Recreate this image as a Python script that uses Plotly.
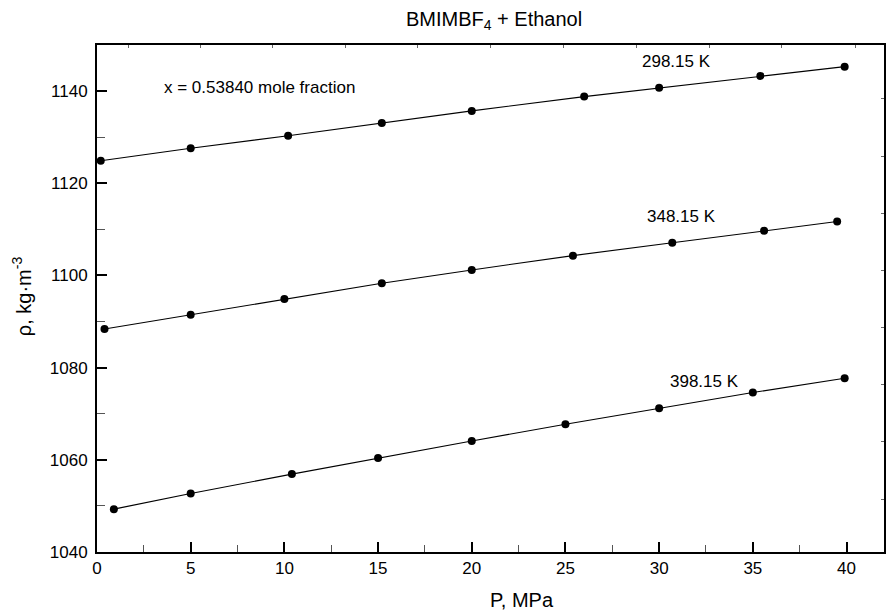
import plotly.graph_objects as go

# Data (pressure in MPa, density in kg/m^3)
p_298 = [0.2, 5.0, 10.2, 15.2, 20.0, 26.0, 30.0, 35.4, 39.9]
rho_298 = [1124.9, 1127.6, 1130.3, 1133.1, 1135.7, 1138.8, 1140.7, 1143.3, 1145.3]

p_348 = [0.4, 5.0, 10.0, 15.2, 20.0, 25.4, 30.7, 35.6, 39.5]
rho_348 = [1088.4, 1091.5, 1094.9, 1098.3, 1101.2, 1104.3, 1107.1, 1109.7, 1111.7]

p_398 = [0.9, 5.0, 10.4, 15.0, 20.0, 25.0, 30.0, 35.0, 39.9]
rho_398 = [1049.3, 1052.7, 1056.9, 1060.4, 1064.1, 1067.7, 1071.2, 1074.6, 1077.7]

series_labels = ["298.15 K", "348.15 K", "398.15 K"]
label_pos_x = [30.9, 31.2, 32.4]
label_pos_y = [1146.4, 1112.7, 1077.1]

x_range = [0, 42]
y_range = [1040, 1150]
x_ticks = [0, 5, 10, 15, 20, 25, 30, 35, 40]
y_ticks = [1040, 1060, 1080, 1100, 1120, 1140]
top_ticks = [1.68, 5.52, 9.36, 13.25, 17.09, 20.98, 24.92, 28.81, 32.7, 36.54, 40.49]
right_ticks = [1138.3, 1125.9, 1113.5, 1101.1, 1088.7, 1076.3, 1063.9, 1051.5]

FONT = "Liberation Sans, Arial, Helvetica, sans-serif"

fig = go.Figure()
for px, py in [(p_298, rho_298), (p_348, rho_348), (p_398, rho_398)]:
    fig.add_trace(go.Scatter(
        x=px, y=py, mode="lines+markers",
        line=dict(color="black", width=1.1),
        marker=dict(color="black", size=8),
        showlegend=False, cliponaxis=False,
    ))

# invisible trace for the overlay axes (top/right tick marks)
fig.add_trace(go.Scatter(x=[None], y=[None], xaxis="x2", yaxis="y2",
                         showlegend=False, hoverinfo="skip"))

for lab, lx, ly in zip(series_labels, label_pos_x, label_pos_y):
    fig.add_annotation(x=lx, y=ly, text=lab, showarrow=False,
                       font=dict(family=FONT, size=17, color="black"),
                       xanchor="center", yanchor="middle")

fig.add_annotation(x=8.66, y=1140.8, text="x = 0.53840 mole fraction", showarrow=False,
                   font=dict(family=FONT, size=17, color="black"),
                   xanchor="center", yanchor="middle")

# axis titles as annotations
fig.add_annotation(xref="paper", yref="paper", x=0.54, y=-0.095, text="P, MPa",
                   showarrow=False, font=dict(family=FONT, size=20, color="black"),
                   xanchor="center", yanchor="middle")
fig.add_annotation(xref="paper", yref="paper", x=-0.095, y=0.505,
                   text="ρ, kg·m<sup>-3</sup>", textangle=-90,
                   showarrow=False, font=dict(family=FONT, size=20, color="black"),
                   xanchor="center", yanchor="middle")

fig.update_layout(
    width=886, height=610,
    margin=dict(l=97, r=2, t=45, b=58),
    paper_bgcolor="white", plot_bgcolor="white",
    font=dict(family=FONT, size=17, color="black"),
    title=dict(text="BMIMBF<sub>4</sub> + Ethanol", x=0.5576, xanchor="center",
               y=0.969, yanchor="middle",
               font=dict(family=FONT, size=20, color="black")),
    xaxis=dict(range=x_range, tickvals=x_ticks, ticks="inside", ticklen=10,
               tickwidth=1.5, tickcolor="black", showline=True, linecolor="black",
               linewidth=2, mirror=False, showgrid=False, zeroline=False,
               minor=dict(dtick=2.5, tick0=0, ticks="inside", ticklen=7,
                          tickwidth=1, tickcolor="#555", showgrid=False),
               tickfont=dict(family=FONT, size=17, color="black")),
    yaxis=dict(range=y_range, tickvals=y_ticks, ticks="inside", ticklen=10,
               tickwidth=1.5, tickcolor="black", showline=True, linecolor="black",
               linewidth=2, mirror=False, showgrid=False, zeroline=False,
               minor=dict(dtick=10, tick0=1040, ticks="inside", ticklen=8,
                          tickwidth=1, tickcolor="#555", showgrid=False),
               ticklabelstandoff=4,
               tickfont=dict(family=FONT, size=17, color="black")),
    xaxis2=dict(range=x_range, overlaying="x", side="top", anchor="y2",
                tickvals=top_ticks, ticks="inside", ticklen=3, tickwidth=1,
                tickcolor="#666", showticklabels=False, showline=True,
                linecolor="black", linewidth=1.5, showgrid=False, zeroline=False),
    yaxis2=dict(range=y_range, overlaying="y", side="right", anchor="x2",
                tickvals=right_ticks, ticks="inside", ticklen=3, tickwidth=1,
                tickcolor="#666", showticklabels=False, showline=True,
                linecolor="black", linewidth=1.5, showgrid=False, zeroline=False),
)

fig.write_html("out.html")
